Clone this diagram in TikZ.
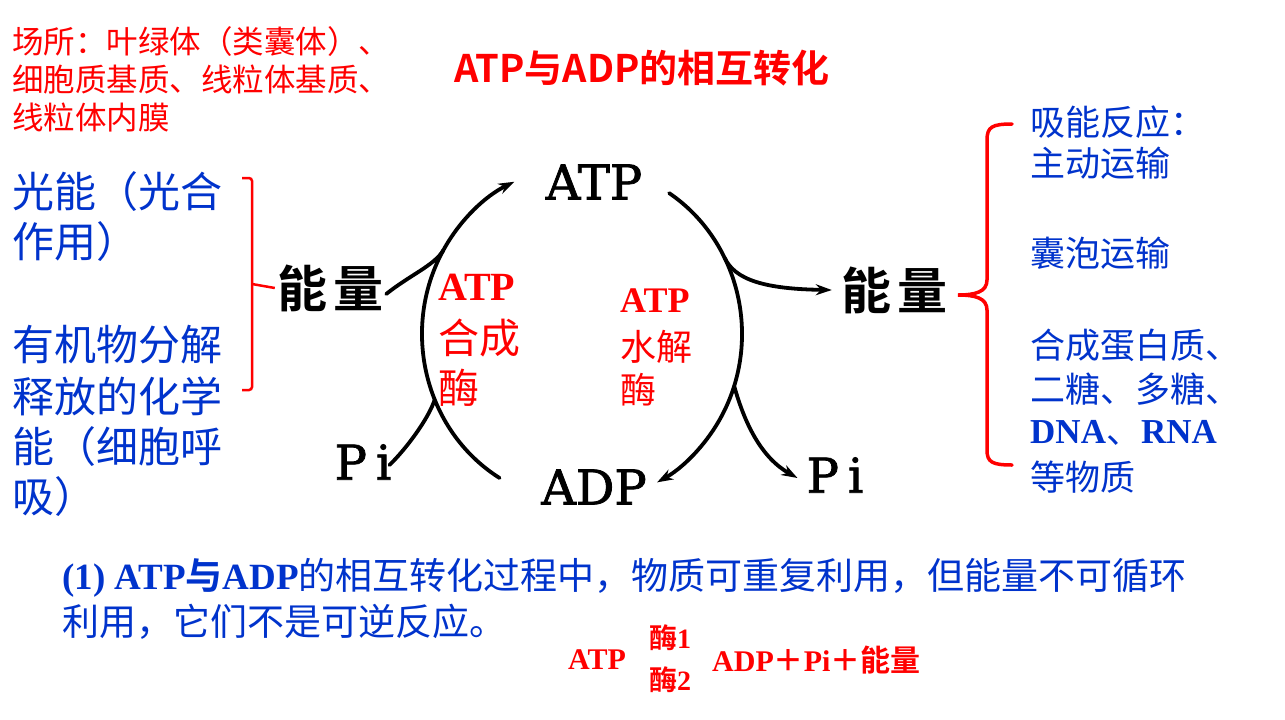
\documentclass[tikz,border=0pt]{standalone}
\usepackage{fontspec}
\usetikzlibrary{arrows.meta,calc}
\setmainfont{Liberation Serif}
\newfontfamily\cjk[BoldFont={Noto Sans CJK SC Bold}]{Noto Sans CJK SC}
\newfontfamily\dserif[FakeBold=1.6]{DejaVu Serif}
\definecolor{tblue}{RGB}{0,51,204}
\newcommand\fs[1]{\fontsize{#1}{#1}\selectfont}
\begin{document}
\begin{tikzpicture}[x=1pt,y=-1pt,
  txt/.style={inner sep=0pt,anchor=west},
  lab/.style={inner sep=0pt},
  cyc/.style={line width=3.8pt,line cap=round},
  tip/.style={-{Stealth[length=16pt,width=11pt]}},
  brk/.style={red,line width=2.5pt,rounded corners=3pt}]
\useasboundingbox[fill=white] (0,0) rectangle (1285,720);

% --- location note (top left)
\node[txt,red,font={\cjk\fs{31.5}}] (loc1) at (12,42) {场所：叶绿体（类囊体）、};
\node[txt,red,font={\cjk\fs{31.5}}] (loc2) at (12,80) {细胞质基质、线粒体基质、};
\node[txt,red,font={\cjk\fs{31.5}}] (loc3) at (12,118) {线粒体内膜};

% --- title
\node[lab,red,font={\cjk\bfseries\fs{38}}] (title) at (642,68) {ATP与ADP的相互转化};

% --- energy sources (left)
\node[txt,tblue,font={\cjk\fs{42}}] (s1) at (12,192) {光能（光合};
\node[txt,tblue,font={\cjk\fs{42}}] (s2) at (12,242) {作用）};
\node[txt,tblue,font={\cjk\fs{42}}] (s3) at (12,345) {有机物分解};
\node[txt,tblue,font={\cjk\fs{42}}] (s4) at (12,396) {释放的化学};
\node[txt,tblue,font={\cjk\fs{42}}] (s5) at (12,447) {能（细胞呼};
\node[txt,tblue,font={\cjk\fs{42}}] (s6) at (12,497) {吸）};

% --- energy uses (right)
\node[txt,tblue,font={\cjk\fs{35}}] (u1) at (1030,122) {吸能反应：};
\node[txt,tblue,font={\cjk\fs{35}}] (u2) at (1030,163) {主动运输};
\node[txt,tblue,font={\cjk\fs{35}}] (u3) at (1030,253) {囊泡运输};
\node[txt,tblue,font={\cjk\fs{35}}] (u4) at (1030,345) {合成蛋白质、};
\node[txt,tblue,font={\cjk\fs{35}}] (u5) at (1030,389) {二糖、多糖、};
\node[txt,tblue,font={\fs{35}}] (u6) at (1030,433) {\textbf{DNA}{\cjk 、}\textbf{RNA}};
\node[txt,tblue,font={\cjk\fs{35}}] (u7) at (1030,477) {等物质};

% --- cycle labels
\node[lab,font={\dserif\fs{48}}] (atp) at (594,182) {ATP};
\node[lab,font={\dserif\fs{48}}] (adp) at (594,487) {ADP};
\node[lab,font={\dserif\fs{48}}] (pi1) at (363,462) {P\kern9pt i};
\node[lab,font={\dserif\fs{48}}] (pi2) at (835,475) {P\kern9pt i};
\node[lab,font={\cjk\bfseries\fs{50}}] (e1) at (330,288) {能\hspace{6pt}量};
\node[lab,font={\cjk\bfseries\fs{50}}] (e2) at (894,290) {能\hspace{6pt}量};

% --- enzyme labels
\node[txt,red,font={\bfseries\fs{40}}] (z1) at (438,287) {ATP};
\node[txt,red,font={\cjk\fs{41}}] (z2) at (438,338) {合成};
\node[txt,red,font={\cjk\fs{41}}] (z3) at (438,388) {酶};
\node[txt,red,font={\bfseries\fs{36}}] (h1) at (620,301) {ATP};
\node[txt,red,font={\cjk\fs{36}}] (h2) at (620,347) {水解};
\node[txt,red,font={\cjk\fs{36}}] (h3) at (620,390) {酶};

% --- cycle arcs (ATP synthesis on the left, hydrolysis on the right)
\coordinate (c) at (582,334);
\coordinate (la) at ($(c)+(121:160 and 168)$);
\coordinate (ra) at ($(c)+(-57:160 and 168)$);
\draw[cyc,tip] (la) arc[start angle=121,end angle=245,x radius=160,y radius=168];
\draw[cyc,tip] (ra) arc[start angle=-57,end angle=62,x radius=160,y radius=168];

% --- branches joining the arcs
\coordinate (j1) at ($(c)+(210:160 and 168)$);
\coordinate (j2) at ($(c)+(157:160 and 168)$);
\coordinate (j3) at ($(c)+(-27:160 and 168)$);
\coordinate (j4) at ($(c)+(18:160 and 168)$);
\draw[cyc] ([xshift=3pt,yshift=-6pt]e1.east) .. controls (410,275) and (435,265) .. (j1);
\draw[cyc] ([xshift=-2pt,yshift=-3pt]pi1.east) .. controls (405,450) and (428,420) .. (j2);
\draw[cyc,tip] (j3) .. controls (735,280) and (765,289) .. ([xshift=-9pt]e2.west);
\draw[cyc,tip] (j4) .. controls (745,425) and (762,458) .. ([xshift=-9pt,yshift=-3pt]pi2.west);

% --- brackets
\coordinate (lb) at (252,284);
\draw[brk] (242,178) -- (252,178) -- (252,390) -- (242,390);
\draw[red,line width=2.5pt] (lb) -- ([xshift=-2pt]e1.west);
\draw[red,line width=3.5pt,line cap=round]
  (1012,124) .. controls (992,124) and (987,127) .. (987,140) -- (987,280)
  .. controls (987,292) and (975,295) .. (958,295)
  .. controls (975,295) and (987,298) .. (987,310) -- (987,450)
  .. controls (987,462) and (992,465) .. (1012,465);

% --- conclusion
\node[txt,tblue,font={\fs{37}}] (n1) at (62,578)
  {\textbf{(1) ATP}{\cjk\bfseries 与}\textbf{ADP}{\cjk 的相互转化过程中，物质可重复利用，但能量不可循环}};
\node[txt,tblue,font={\cjk\fs{37}}] (n2) at (62,622) {利用，它们不是可逆反应。};

% --- equation
\node[txt,red,font={\bfseries\fs{30}}] (q1) at (568,660) {ATP};
\node[lab,red,font={\cjk\bfseries\fs{28}}] (q2) at (670,638) {酶{\rmfamily 1}};
\node[lab,red,font={\cjk\bfseries\fs{28}}] (q3) at (670,680) {酶{\rmfamily 2}};
\node[txt,red,font={\bfseries\fs{30}}] (q4) at (712,660) {ADP{\cjk ＋}Pi{\cjk ＋能量}};
\end{tikzpicture}
\end{document}
